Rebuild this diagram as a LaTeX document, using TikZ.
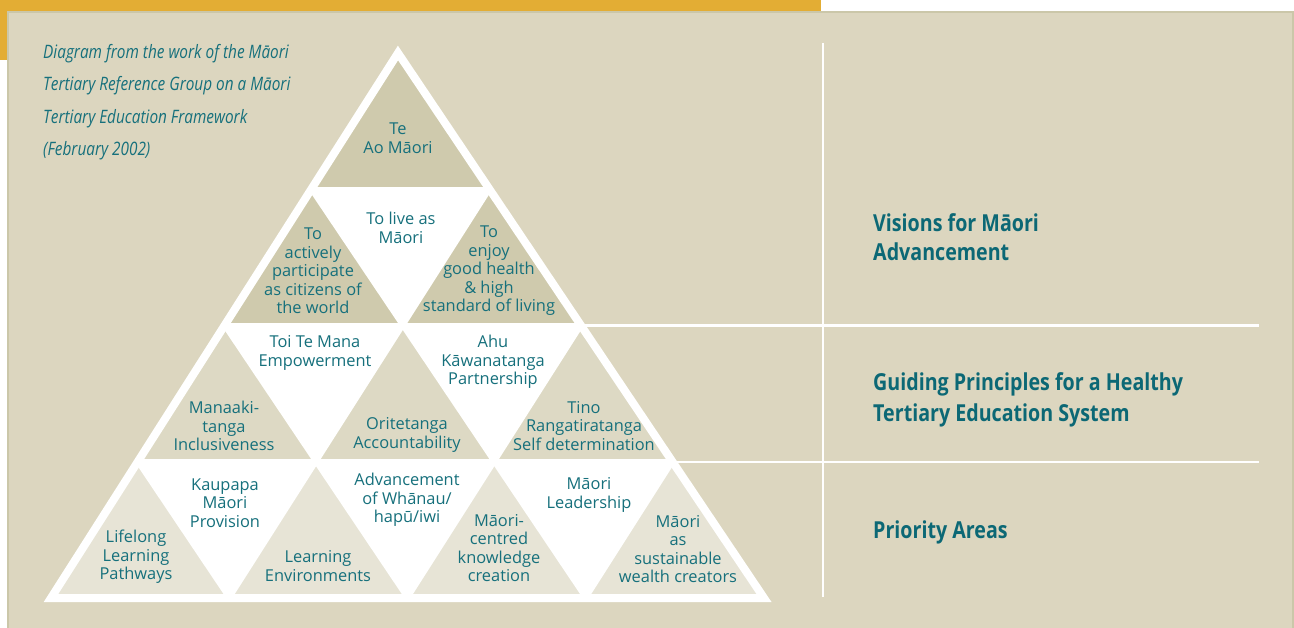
\documentclass[tikz,border=0pt]{standalone}
\usepackage{fontspec}
\setmainfont{Open Sans}
\newfontfamily\headfont[FakeStretch=0.84]{Open Sans}
\newfontfamily\notefont[FakeStretch=0.83]{Open Sans}
\usetikzlibrary{calc}
\definecolor{goldcolor}{RGB}{227,173,52}
\definecolor{panelcolor}{RGB}{220,214,191}
\definecolor{rimcolor}{RGB}{203,199,169}
\definecolor{tridark}{RGB}{207,202,173}
\definecolor{trimid}{RGB}{221,217,196}
\definecolor{trilight}{RGB}{231,228,214}
\definecolor{inkcolor}{RGB}{22,112,124}
\definecolor{headcolor}{RGB}{12,104,117}
\def\gapwidth{5pt}
\def\rimwidth{8pt}
\tikzset{
  trilabel/.style = {align=center, inner sep=0pt, text=inkcolor,
                     font=\fontsize{16.4}{18.5}\selectfont},
  % multi-line nodes: base anchor sits on the last line
  heading/.style  = {anchor=base west, align=left, inner sep=0pt, text=headcolor,
                     font=\headfont\bfseries\fontsize{23.4}{#1}\selectfont},
  heading/.default = 30,
  note/.style     = {anchor=base west, align=left, inner sep=0pt, text=inkcolor,
                     font=\notefont\itshape\fontsize{18.5}{32.5}\selectfont},
  gridline/.style = {draw=white, line width=\gapwidth},
  rimline/.style  = {draw=white, line width=\rimwidth, line join=miter},
  rule/.style     = {draw=white, line width=2.5pt},
  panelrim/.style = {draw=rimcolor, line width=2pt}
}

\begin{document}
\begin{tikzpicture}[x=1pt,y=-1pt]
\useasboundingbox (0,0) rectangle (1294,628);

% --- gold tab and beige panel ---
\fill[goldcolor] (0,0) rectangle (821,11);
\fill[goldcolor] (0,0) rectangle (7,60);
\fill[panelcolor] (7,11) rectangle (1294,628);
\draw[panelrim] (8,628) -- (8,12) -- (1293,12) -- (1293,628);

% --- pyramid corners ---
\coordinate (apex) at (398,53);
\coordinate (bl) at (51,598);
\coordinate (br) at (764,598);

% --- lattice points, four rows ---
\coordinate (p00) at (apex);
\foreach \i in {1,...,4}{
  \coordinate (l\i) at ($(apex)!\i/4!(bl)$);
  \coordinate (r\i) at ($(apex)!\i/4!(br)$);
  \foreach \j in {0,...,\i}{
    \pgfmathsetmacro{\f}{\j/\i}
    \coordinate (p\i\j) at ($(l\i)!\f!(r\i)$);
  }
}

% --- upright triangles, shaded per row (inverted ones stay white) ---
\fill[white] (apex) -- (bl) -- (br) -- cycle;
\foreach \i/\tone in {1/tridark,2/tridark,3/trimid,4/trilight}{
  \pgfmathtruncatemacro{\k}{\i-1}
  \foreach \j in {0,...,\k}{
    \pgfmathtruncatemacro{\jj}{\j+1}
    \fill[fill=\tone] (p\k\j) -- (p\i\j) -- (p\i\jj) -- cycle;
  }
}

% --- white gaps between the triangles ---
\foreach \i in {1,2,3}{
  \pgfmathtruncatemacro{\m}{4-\i}
  \draw[gridline] (l\i) -- (r\i);
  \draw[gridline] (p\i\i) -- (p4\i);
  \draw[gridline] (p\i0) -- (p4\m);
}
\draw[rimline] (apex) -- (bl) -- (br) -- cycle;

% --- rules on the right ---
\coordinate (ruletop) at (823,43);
\coordinate (rulebot) at (823,597);
\coordinate (ruleend) at (1259,0);
\draw[rule] (ruletop) -- (rulebot);
\draw[rule] (r2) -- (r2 -| ruleend);
\draw[rule] (r3) -- (r3 -| ruleend);

% --- source note ---
\node[note] (source) at (43,156) {Diagram from the work of the Māori\\Tertiary Reference Group on a Māori\\Tertiary Education Framework\\(February 2002)};

% --- row headings ---
\node[heading=29] (visions) at (873,261) {Visions for Māori\\Advancement};
\node[heading=31.5] (principles) at (873,421.5) {Guiding Principles for a Healthy\\Tertiary Education System};
\node[heading] (priorities) at (873,538) {Priority Areas};

% --- top and visions row ---
\node[trilabel] (teao) at (398,138) {Te\\Ao Māori};
\node[trilabel] (citizens) at (313,271) {To\\actively\\participate\\as citizens of\\the world};
\node[trilabel] (livemaori) at (401,228) {To live as\\Māori};
\node[trilabel] (health) at (489,271) {To\\enjoy\\good health\\\& high\\standard of living};

% --- guiding principles row ---
\node[trilabel] (toimana) at (315,353) {Toi Te Mana\\Empowerment};
\node[trilabel] (ahu) at (493,362) {Ahu\\Kāwanatanga\\Partnership};
\node[trilabel] (manaaki) at (224,426) {Manaaki-\\tanga\\Inclusiveness};
\node[trilabel] (oritetanga) at (407,435) {Oritetanga\\Accountability};
\node[trilabel] (tino) at (584,426) {Tino\\Rangatiratanga\\Self determination};

% --- priority areas row ---
\node[trilabel] (lifelong) at (136,557) {Lifelong\\Learning\\Pathways};
\node[trilabel] (kaupapa) at (225,503) {Kaupapa\\Māori\\Provision};
\node[trilabel] (learnenv) at (318,566) {Learning\\Environments};
\node[trilabel] (whanau) at (407,500) {Advancement\\of Whānau/\\hapū/iwi};
\node[trilabel] (knowledge) at (499,548) {Māori-\\centred\\knowledge\\creation};
\node[trilabel] (leadership) at (589,495) {Māori\\Leadership};
\node[trilabel] (wealth) at (678,549) {Māori\\as\\sustainable\\wealth creators};

\end{tikzpicture}
\end{document}
